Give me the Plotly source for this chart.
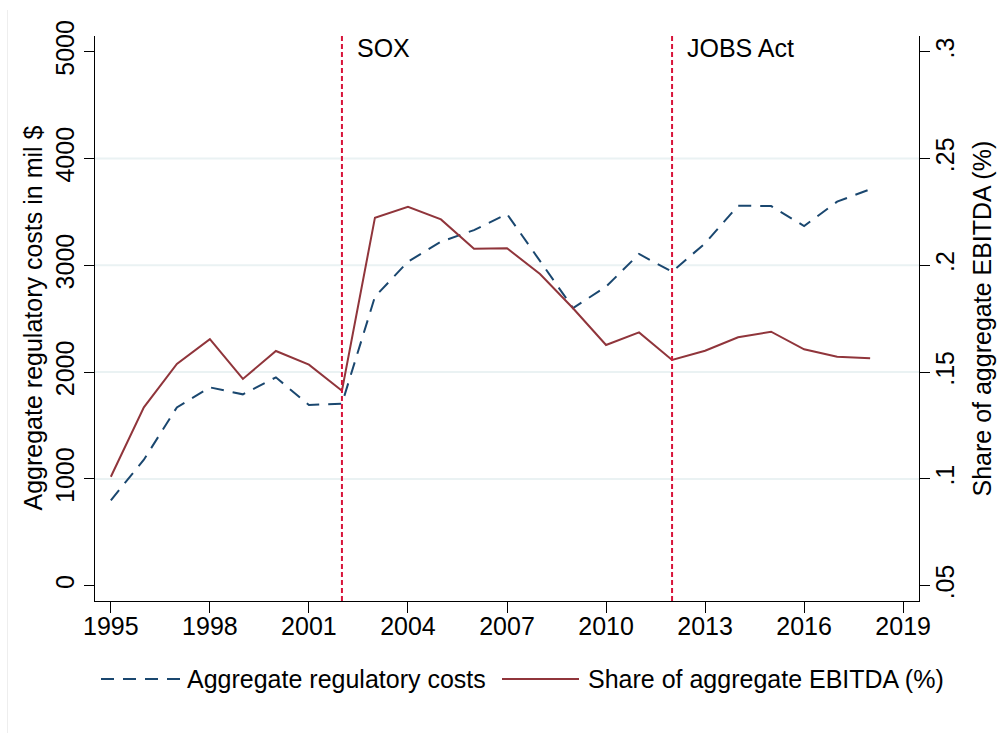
import plotly.graph_objects as go

years = list(range(1995, 2019))
reg_costs = [800, 1180, 1670, 1857, 1792, 1951, 1692, 1704, 2706, 3034, 3221, 3330,
             3480, 3040, 2600, 2800, 3106, 2940, 3206, 3558, 3555, 3368, 3596, 3712]
ebitda_share = [0.101, 0.1335, 0.1538, 0.1654, 0.1468, 0.1599, 0.1535, 0.1413, 0.2223,
                0.2274, 0.2215, 0.2078, 0.2080, 0.1959, 0.1799, 0.1627, 0.1686, 0.1557,
                0.1600, 0.1663, 0.1689, 0.1607, 0.1572, 0.1565]

x_ticks = list(range(1995, 2020, 3))
left_ticks = [0, 1000, 2000, 3000, 4000, 5000]
left_ticktext = ["0", "1000", "2000", "3000", "4000", "5000"]
grid_values = [1000, 2000, 3000, 4000]
right_ticks = [0.05, 0.1, 0.15, 0.2, 0.25, 0.3]
right_ticktext = [".05", ".1", ".15", ".2", ".25", ".3"]
event_years = [2002, 2012]
event_labels = ["SOX", "JOBS Act"]

BLUE = "#1a476f"
RED = "#90353b"
VRED = "#d8143a"
FONT = "Liberation Sans, Arial, sans-serif"
FS = 25

left_range = [-143, 5147]
right_range = [0.05 + v / 20000 for v in left_range]

W, H = 997, 733
PL, PT, PW, PH = 95, 36, 824, 565


def px(xs):
    return (xs - PL) / PW


def py(ys):
    return (PT + PH - ys) / PH


fig = go.Figure()
fig.add_trace(go.Scatter(x=years, y=reg_costs, mode="lines", name="Aggregate regulatory costs",
                         line=dict(color=BLUE, width=2, dash="13px,9px"), yaxis="y"))
fig.add_trace(go.Scatter(x=years, y=ebitda_share, mode="lines", name="Share of aggregate EBITDA (%)",
                         line=dict(color=RED, width=2), yaxis="y2"))

shapes = []
for g in grid_values:
    shapes.append(dict(type="line", xref="paper", yref="y", x0=0, x1=1, y0=g, y1=g,
                       line=dict(color="#eaf2f3", width=2), layer="below"))
for ey in event_years:
    shapes.append(dict(type="line", xref="x", yref="paper", x0=ey, x1=ey, y0=0, y1=1,
                       line=dict(color=VRED, width=2, dash="5px,3px")))

# faint outer border on left
shapes.append(dict(type="line", xref="paper", yref="paper",
                   x0=px(7.5), x1=px(7.5), y0=py(10), y1=py(733),
                   line=dict(color="#eeeeee", width=1)))

# custom legend
leg_y = py(679)
shapes.append(dict(type="line", xref="paper", yref="paper",
                   x0=px(101), x1=px(180), y0=leg_y, y1=leg_y,
                   line=dict(color=BLUE, width=2, dash="13px,9px")))
shapes.append(dict(type="line", xref="paper", yref="paper",
                   x0=px(502), x1=px(579), y0=leg_y, y1=leg_y,
                   line=dict(color=RED, width=2)))

annotations = []
for ey, lab in zip(event_years, event_labels):
    annotations.append(dict(x=ey, xref="x", y=py(48), yref="paper", text=lab,
                            showarrow=False, xanchor="left", yanchor="middle", xshift=13,
                            font=dict(family=FONT, size=FS, color="black")))
annotations.append(dict(x=px(185), y=leg_y, xref="paper", yref="paper",
                        text="Aggregate regulatory costs", showarrow=False,
                        xanchor="left", yanchor="middle", font=dict(family=FONT, size=FS, color="black")))
annotations.append(dict(x=px(586), y=leg_y, xref="paper", yref="paper",
                        text="Share of aggregate EBITDA (%)", showarrow=False,
                        xanchor="left", yanchor="middle", font=dict(family=FONT, size=FS, color="black")))
annotations.append(dict(x=px(32), y=0.5, xref="paper", yref="paper",
                        text="Aggregate regulatory costs in mil $", textangle=-90, showarrow=False,
                        xanchor="center", yanchor="middle", font=dict(family=FONT, size=FS, color="black")))
annotations.append(dict(x=px(981), y=0.5, xref="paper", yref="paper",
                        text="Share of aggregate EBITDA (%)", textangle=-90, showarrow=False,
                        xanchor="center", yanchor="middle", font=dict(family=FONT, size=FS, color="black")))

fig.update_layout(
    width=W, height=H,
    margin=dict(l=PL, r=W - PL - PW, t=PT, b=H - PT - PH, autoexpand=False),
    paper_bgcolor="white", plot_bgcolor="white",
    showlegend=False,
    font=dict(family=FONT, size=FS, color="black"),
    xaxis=dict(range=[1994.52, 2019.48], tickvals=x_ticks, ticks="outside", ticklen=11,
               tickwidth=1.3, tickcolor="black", showline=True, linecolor="black", linewidth=1.3,
               showgrid=False, zeroline=False, ticklabelstandoff=-8,
               tickfont=dict(family=FONT, size=FS, color="black")),
    yaxis=dict(range=left_range, tickvals=left_ticks, ticktext=left_ticktext, tickangle=-90,
               ticks="outside", ticklen=10, tickwidth=1.3, tickcolor="black", showline=True,
               linecolor="black", linewidth=1.3, showgrid=False, zeroline=False,
               tickfont=dict(family=FONT, size=FS, color="black")),
    yaxis2=dict(range=right_range, tickvals=right_ticks, ticktext=right_ticktext, tickangle=-90,
                overlaying="y", side="right", ticks="outside", ticklen=10, tickwidth=1.3,
                tickcolor="black", showline=True, linecolor="black", linewidth=1.3,
                showgrid=False, zeroline=False, ticklabelstandoff=-6,
                tickfont=dict(family=FONT, size=FS, color="black")),
    shapes=shapes,
    annotations=annotations,
)

fig.write_html("out.html", config={"displayModeBar": False},
               post_script="document.body.style.margin='0';document.body.style.overflow='hidden';")
